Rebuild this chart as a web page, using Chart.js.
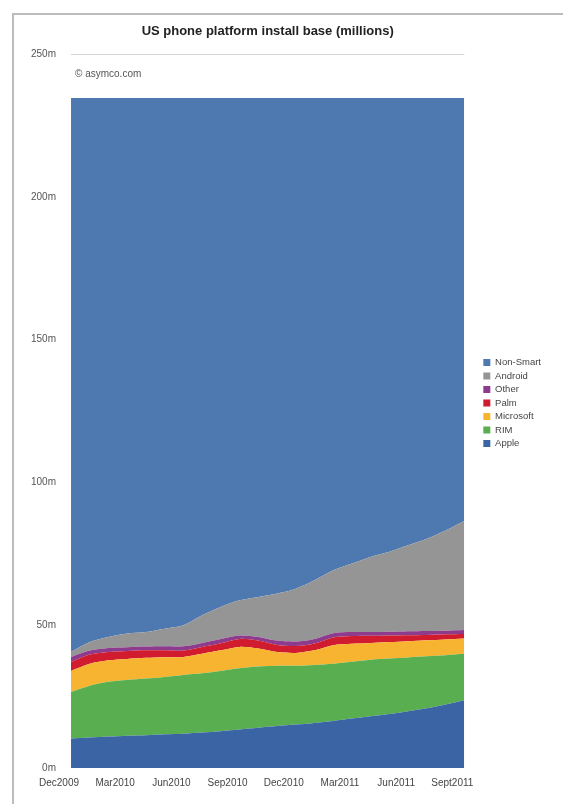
<!DOCTYPE html>
<html>
<head>
<meta charset="utf-8">
<title>US phone platform install base</title>
<script src="https://cdn.jsdelivr.net/npm/chart.js@4.4.1/dist/chart.umd.min.js"></script>
<style>
    html, body { margin: 0; padding: 0; background: #fff; }
    body { width: 563px; height: 804px; position: relative; overflow: hidden; }
    .frame { position: absolute; left: 12px; top: 13px; width: 620px; height: 840px; border-left: 2px solid #bdbdbd; border-top: 2px solid #bdbdbd; }
    #wrap { position: absolute; left: 0; top: 0; width: 563px; height: 804px; }
</style>
</head>
<body>
<div class="frame"></div>
<div id="wrap"><canvas id="install-chart"></canvas></div>
<script>
// monthly install base, millions
const months = ["Dec2009", "Jan2010", "Feb2010", "Mar2010", "Apr2010", "May2010", "Jun2010", "Jul2010",
    "Aug2010", "Sep2010", "Oct2010", "Nov2010", "Dec2010", "Jan2011", "Feb2011", "Mar2011",
    "Apr2011", "May2011", "Jun2011", "Jul2011", "Aug2011", "Sept2011"];

const apple = [10.3, 10.7, 11.0, 11.3, 11.5, 11.8, 12.0, 12.4, 12.9, 13.5, 14.1, 14.7, 15.2, 15.8, 16.5, 17.3, 18.1, 18.9, 19.9, 20.9, 22.2, 23.7];
const rim = [16.3, 18.1, 19.2, 19.5, 19.8, 20.1, 20.6, 20.8, 21.1, 21.4, 21.4, 21.1, 20.6, 20.3, 20.0, 19.9, 19.8, 19.4, 18.8, 18.2, 17.3, 16.3];
const microsoft = [7.4, 7.7, 7.5, 7.4, 7.3, 6.9, 6.3, 6.8, 7.2, 7.5, 6.3, 4.8, 4.5, 5.1, 6.5, 6.3, 5.9, 5.8, 5.7, 5.6, 5.5, 5.3];
const palm = [3.1, 3.2, 2.9, 2.8, 2.6, 2.4, 2.2, 2.4, 2.5, 2.8, 2.8, 2.5, 2.4, 2.4, 2.7, 2.7, 2.5, 2.3, 2.1, 1.9, 1.8, 1.6];
const other = [1.8, 1.4, 1.4, 1.3, 1.3, 1.4, 1.5, 1.4, 1.5, 1.2, 1.3, 1.5, 1.6, 1.6, 1.5, 1.4, 1.3, 1.3, 1.4, 1.4, 1.3, 1.4];
const android = [1.7, 3.0, 3.9, 4.8, 5.1, 6.2, 7.4, 9.7, 11.2, 12.3, 14.0, 16.5, 18.5, 20.5, 22.0, 24.0, 26.3, 28.0, 30.1, 32.3, 35.1, 38.2];
const nonSmart = [194.0, 190.5, 188.7, 187.5, 187.0, 185.8, 184.6, 181.1, 178.2, 175.9, 174.7, 173.5, 171.8, 168.9, 165.4, 163.0, 160.7, 158.9, 156.6, 154.3, 151.4, 148.1];

const yTicks = [0, 50, 100, 150, 200, 250];

const chartTitle = "US phone platform install base (millions)";
const sourceNote = "\u00A9 asymco.com";

const fontFamily = "'Liberation Sans', Arial, Helvetica, sans-serif";

const series = [
    { label: "Apple", data: apple, color: "#3a64a3" },
    { label: "RIM", data: rim, color: "#59ae50" },
    { label: "Microsoft", data: microsoft, color: "#f7b430" },
    { label: "Palm", data: palm, color: "#d11c30" },
    { label: "Other", data: other, color: "#8c3b8d" },
    { label: "Android", data: android, color: "#959595" },
    { label: "Non-Smart", data: nonSmart, color: "#4e79b0" }
];

// title above the plot and the source note inside it
const headerText = {
    id: "headerText",
    afterDraw(chart) {
        const { ctx, chartArea } = chart;
        ctx.save();
        ctx.fillStyle = "#222";
        ctx.font = "bold 13px " + fontFamily;
        ctx.textAlign = "center";
        ctx.textBaseline = "middle";
        ctx.fillText(chartTitle, (chartArea.left + chartArea.right) / 2, 31);
        ctx.fillStyle = "#555";
        ctx.font = "10px " + fontFamily;
        ctx.textAlign = "left";
        ctx.fillText(sourceNote, chartArea.left + 4, 74);
        ctx.restore();
    }
};

// legend sits a bit away from the plot and slightly higher
const legendNudge = {
    id: "legendNudge",
    afterLayout(chart) {
        const lg = chart.legend;
        lg.left += 15;
        lg.right += 15;
        lg.top -= 19;
        lg.bottom -= 19;
    }
};

const loadChart = () => {
    const ctx = document.getElementById("install-chart").getContext("2d");

    new Chart(ctx, {
        type: "line",
        data: {
            labels: months,
            datasets: series.map((s, i) => ({
                label: s.label,
                data: s.data,
                backgroundColor: s.color,
                borderColor: s.color,
                borderWidth: 0,
                pointRadius: 0,
                tension: 0.3,
                fill: i === 0 ? "origin" : "-1"
            }))
        },
        options: {
            responsive: true,
            maintainAspectRatio: false,
            animation: false,
            layout: {
                padding: { top: 54, right: 27, bottom: 14, left: 16 }
            },
            plugins: {
                legend: {
                    position: "right",
                    reverse: true,
                    labels: {
                        boxWidth: 7,
                        boxHeight: 7,
                        padding: 4,
                        color: "#444",
                        font: { family: fontFamily, size: 9.5 }
                    }
                },
                tooltip: { enabled: false }
            },
            scales: {
                x: {
                    grid: { display: false },
                    border: { display: false },
                    ticks: {
                        autoSkip: false,
                        maxRotation: 0,
                        padding: 1,
                        labelOffset: -12,
                        color: "#444",
                        font: { family: fontFamily, size: 10 },
                        callback: (value, index) => index % 3 === 0 ? months[index] : ""
                    }
                },
                y: {
                    stacked: true,
                    min: 0,
                    max: 250,
                    afterBuildTicks: axis => {
                        axis.ticks = yTicks.map(v => ({ value: v }));
                    },
                    grid: {
                        drawTicks: false,
                        color: c => c.tick && c.tick.value === 250 ? "#d4d4d4" : "rgba(0,0,0,0)"
                    },
                    border: { display: false },
                    ticks: {
                        padding: 15,
                        color: "#555",
                        font: { family: fontFamily, size: 10 },
                        callback: value => value + "m"
                    }
                }
            }
        },
        plugins: [headerText, legendNudge]
    });
}

window.onload = () => loadChart();
</script>
</body>
</html>
